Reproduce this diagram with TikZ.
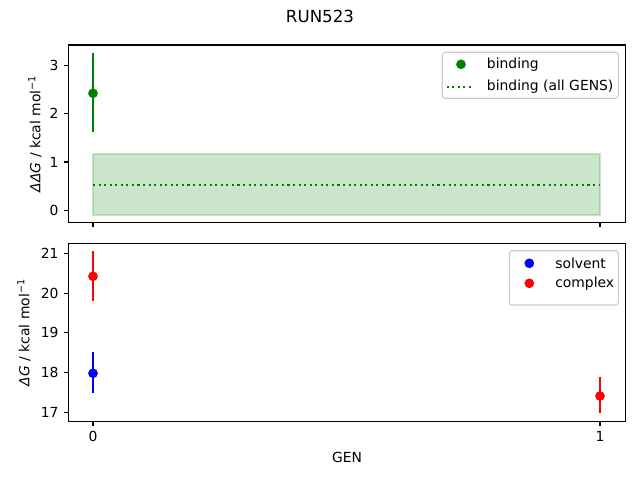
\documentclass[tikz,border=0pt]{standalone}
\usepackage{fontspec}
\setmainfont{DejaVu Sans}
\definecolor{mplgreen}{HTML}{008000}
\definecolor{mplblue}{HTML}{0000FF}
\definecolor{mplred}{HTML}{FF0000}
\tikzset{
  frame/.style={line width=0.8pt},
  tickmark/.style={line width=0.8pt},
  ticklabel/.style={inner sep=0pt},
  errbar/.style={line width=1.5pt},
  dot/.style={circle, fill, inner sep=0pt, minimum size=7pt},
  legendbox/.style={draw=black!20, fill=white, fill opacity=0.8, rounded corners=2pt, line width=0.8pt},
  legendtext/.style={anchor=west, inner sep=0pt},
}
\begin{document}
\begin{tikzpicture}[x=0.72pt, y=-0.72pt]
    \useasboundingbox (0, 0) rectangle (640, 480);
    \node (title) at(320, 16) {\fontsize{12}{14}\selectfont RUN523};
    % upper panel
    \fill[mplgreen, opacity=0.2] (93, 154) rectangle (600, 215);
    \draw[mplgreen, opacity=0.2, line width=1pt] (93, 154) rectangle (600, 215);
    \draw[mplgreen, line width=1.5pt, dash pattern=on 1.5pt off 2.5pt] (93, 185) -- (600, 185);
    \draw[errbar, mplgreen] (93, 53.3) -- (93, 131.7);
    \node[dot, mplgreen] (bind0) at(93, 93.3) {};
    \draw[frame] (68.5, 45) rectangle (625.5, 222.5);
    \foreach \v/\y in {0/210.3, 1/162.0, 2/113.6, 3/65.3} {
        \draw[tickmark] (68.5, \y) -- (63.6, \y);
        \node[ticklabel, anchor=east] (ttick\v) at(58.8, \y) {\v};
    }
    \foreach \x in {93, 600}
        \draw[tickmark] (\x, 222.5) -- (\x, 227.4);
    \node[rotate=90] (ylabtop) at(35, 133.7) {\textit{ΔΔG} / kcal mol\textsuperscript{−1}};
    \draw[legendbox] (442.3, 52.3) rectangle (618.3, 98.3);
    \node[dot, mplgreen] (legbind) at(461, 64.3) {};
    \node[legendtext] (txtbind) at(486.7, 64.3) {binding};
    \draw[mplgreen, line width=1.5pt, dash pattern=on 1.5pt off 2.5pt] (446.7, 86.7) -- (471, 86.7);
    \node[legendtext] (txtall) at(486.7, 86.7) {binding (all GENS)};
    % lower panel
    \draw[errbar, mplred] (93, 251) -- (93, 300.7);
    \node[dot, mplred] (cplx0) at(93, 276.3) {};
    \draw[errbar, mplblue] (93, 352.3) -- (93, 393.3);
    \node[dot, mplblue] (solv0) at(93, 373.3) {};
    \draw[errbar, mplred] (600, 376.7) -- (600, 413.3);
    \node[dot, mplred] (cplx1) at(600, 396) {};
    \draw[frame] (68.5, 243.5) rectangle (625.5, 421.5);
    \foreach \v/\y in {17/412.5, 18/372.7, 19/332.9, 20/293.1, 21/253.3} {
        \draw[tickmark] (68.5, \y) -- (63.6, \y);
        \node[ticklabel, anchor=east] (btick\v) at(58.8, \y) {\v};
    }
    \foreach \v/\x in {0/93, 1/600} {
        \draw[tickmark] (\x, 421.5) -- (\x, 426.4);
        \node[ticklabel, anchor=north] (xtick\v) at(\x, 431.2) {\v};
    }
    \node[rotate=90] (ylabbot) at(24, 332.5) {\textit{ΔG} / kcal mol\textsuperscript{−1}};
    \node (xlab) at(347, 457) {GEN};
    \draw[legendbox] (509.3, 250.7) rectangle (618.3, 305);
    \node[dot, mplblue] (legsolv) at(529.3, 263.3) {};
    \node[legendtext] (txtsolv) at(555, 263.3) {solvent};
    \node[dot, mplred] (legcplx) at(529.3, 283.3) {};
    \node[legendtext] (txtcplx) at(555, 283.3) {complex};
\end{tikzpicture}
\end{document}
